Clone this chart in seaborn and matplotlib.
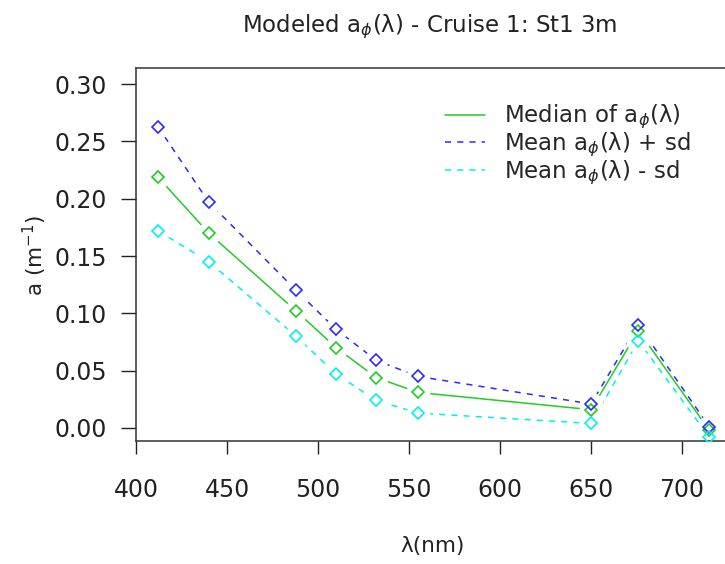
"""
Modeled phytoplankton absorption spectrum for Cruise 1, station St1 at 3 m:
median of a_phi(lambda) together with mean +/- one standard deviation.
"""
import matplotlib
matplotlib.use("Agg")
import matplotlib.pyplot as plt
import pandas as pd
import seaborn as sns

sns.set_style("ticks")
plt.rcParams["font.family"] = ["DejaVu Sans"]
plt.rcParams["mathtext.fontset"] = "dejavusans"

# wavelengths (nm) and absorption values (m^-1)
wavelength = [412, 440, 488, 510, 532, 555, 650, 676, 715]
median_aphi = [0.219, 0.170, 0.102, 0.070, 0.044, 0.031, 0.016, 0.085, -0.002]
mean_plus_sd = [0.263, 0.197, 0.120, 0.086, 0.059, 0.045, 0.021, 0.090, 0.001]
mean_minus_sd = [0.172, 0.145, 0.080, 0.047, 0.024, 0.013, 0.004, 0.076, -0.008]

labels = [r"Median of a$_{\phi}$(λ)", r"Mean a$_{\phi}$(λ) + sd", r"Mean a$_{\phi}$(λ) - sd"]
colors = ["#22cc22", "#2a2aff", "#00f0f0"]
styles = ["-", (0, (4, 4)), (0, (4, 4))]

df = pd.DataFrame({"wavelength": wavelength,
                   labels[0]: median_aphi,
                   labels[1]: mean_plus_sd,
                   labels[2]: mean_minus_sd})

fig = plt.figure(figsize=(7.25, 5.64), dpi=100)
ax = fig.add_axes([0.1876, 0.2181, 0.8124, 0.6613])

# lines first, then a white gap around every point (R type="b"), then the open diamonds
handles = []
for lab, col, ls in zip(labels, colors, styles):
    sns.lineplot(data=df, x="wavelength", y=lab, color=col, linestyle=ls,
                 linewidth=1.1, ax=ax, zorder=2)
    handles.append(ax.get_lines()[-1])
for lab in labels:
    ax.plot(df["wavelength"], df[lab], ls="none", marker="o", ms=16,
            mfc="white", mec="white", zorder=2.2)
for lab, col in zip(labels, colors):
    ax.plot(df["wavelength"], df[lab], ls="none", marker="D", ms=6.5,
            mfc="none", mec=col, mew=1.2, zorder=4)

ax.set_xlim(400, 723.6)
ax.set_ylim(-0.01134, 0.3141)
ax.set_xticks([400, 450, 500, 550, 600, 650, 700])
ax.set_yticks([0.0, 0.05, 0.10, 0.15, 0.20, 0.25, 0.30])
ax.set_yticklabels(["{:.2f}".format(v) for v in ax.get_yticks()])

for side in ["left", "bottom", "top"]:
    ax.spines[side].set_color("#333333")
    ax.spines[side].set_linewidth(1.1)
ax.spines["right"].set_visible(False)
ax.tick_params(axis="x", bottom=True, length=9, width=1.0, color="#222222", pad=18,
               labelsize=17, labelcolor="#222222")
ax.tick_params(axis="y", left=True, length=11, width=1.0, color="#222222", pad=10,
               labelsize=17, labelcolor="#222222")

ax.set_xlabel("λ(nm)", fontsize=15.5, color="#222222")
ax.xaxis.set_label_coords(0.504, -0.255)
ax.set_ylabel(r"a (m$^{-1}$)", fontsize=15.5, color="#222222", va="center")
ax.yaxis.set_label_coords(-0.171, 0.496)

ax.text(0.499, 1.097, r"Modeled a$_{\phi}$(λ) - Cruise 1: St1 3m", transform=ax.transAxes,
        ha="center", va="baseline", fontsize=16.5, color="#222222")

ax.legend(handles=handles, labels=labels, loc="upper left", bbox_to_anchor=(0.525, 0.906),
          frameon=False, fontsize=16.5, borderpad=0, handlelength=1.75, handletextpad=0.8,
          labelspacing=-0.03, borderaxespad=0)

fig.savefig("out.png", dpi=100)
